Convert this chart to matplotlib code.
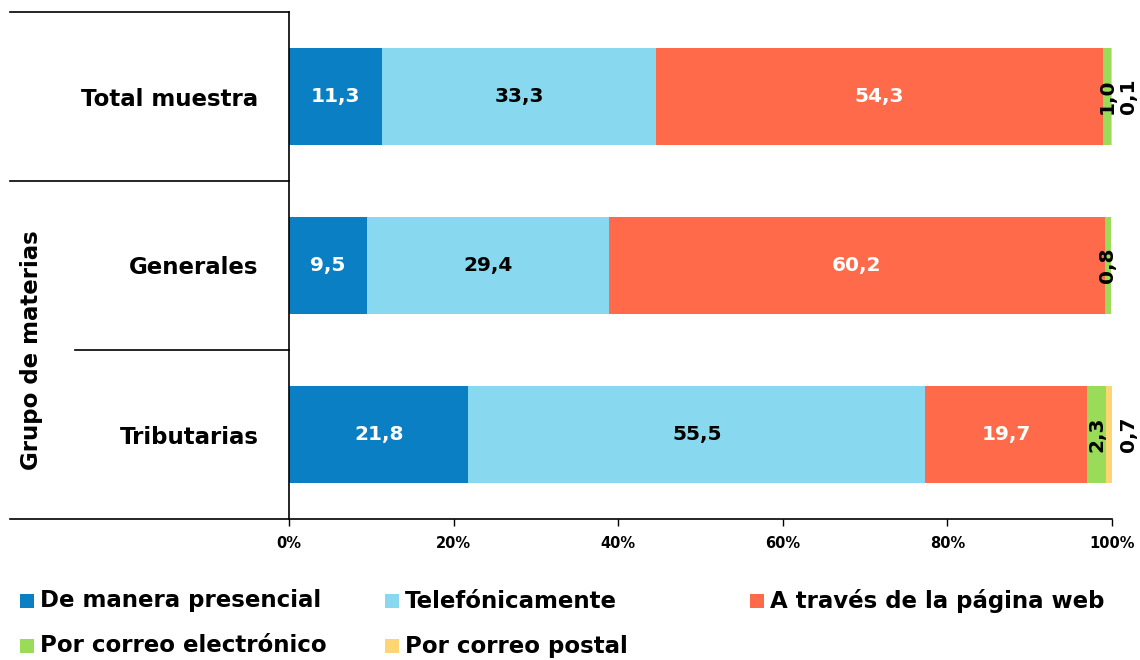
import matplotlib
matplotlib.use("Agg")
import matplotlib.pyplot as plt
from matplotlib.patches import Rectangle

# categorias y porcentajes por via de contacto
grupos = ["Total muestra", "Generales", "Tributarias"]
series = ["De manera presencial", "Telefónicamente", "A través de la página web",
          "Por correo electrónico", "Por correo postal"]
presencial = [11.3, 9.5, 21.8]
telefono = [33.3, 29.4, 55.5]
web = [54.3, 60.2, 19.7]
email = [1.0, 0.8, 2.3]
postal = [0.1, 0.0, 0.7]
ticks_x = [0, 20, 40, 60, 80, 100]
tick_labels = ["0%", "20%", "40%", "60%", "80%", "100%"]

colores = ["#0A7FC4", "#88D9EF", "#FF6B4A", "#9ADC5A", "#FFD573"]
color_texto = ["white", "black", "white", "black", "black"]

fig = plt.figure(figsize=(11.4, 6.6), dpi=100)
ax = fig.add_axes([289/1140, 1 - 519/660, 823/1140, 507/660])

valores = [presencial, telefono, web, email, postal]
ypos = list(range(len(grupos)))
izq = [0.0] * len(grupos)
for k, serie in enumerate(valores):
    ax.barh(ypos, serie, left=izq, height=0.57, color=colores[k], edgecolor="none")
    for i, v in enumerate(serie):
        if v <= 0:
            continue
        centro = izq[i] + v / 2
        txt = f"{v:.1f}".replace(".", ",")
        if v >= 5:
            ax.text(centro, i, txt, ha="center", va="center", fontsize=14.5,
                    fontweight="bold", color=color_texto[k])
        elif k == 3:
            ax.text(centro, i, txt, ha="center", va="center", fontsize=14.5,
                    fontweight="bold", color="black", rotation=90)
        else:
            # etiquetas pequeñas fuera de la barra
            ax.text(102, i, txt, ha="center", va="center", fontsize=14.5,
                    fontweight="bold", color="black", rotation=90, clip_on=False)
    izq = [a + b for a, b in zip(izq, serie)]

ax.set_xlim(0, 100)
ax.set_ylim(2.5, -0.5)
ax.set_xticks(ticks_x)
ax.set_xticklabels(tick_labels, fontsize=10.5, fontweight="bold")
ax.set_yticks(ypos)
ax.set_yticklabels(grupos, fontsize=16.5, fontweight="bold")
ax.tick_params(axis="y", length=0, pad=22)
ax.tick_params(axis="x", length=5, width=1, pad=7)

for lado in ["top", "right", "bottom"]:
    ax.spines[lado].set_visible(False)
ax.spines["left"].set_linewidth(1.2)

# lineas de la tabla a la izquierda
lw = 1.2
ax.plot([-0.339, 0], [1, 1], transform=ax.transAxes, color="black", lw=lw, clip_on=False)
ax.plot([-0.339, 0], [2/3, 2/3], transform=ax.transAxes, color="black", lw=lw, clip_on=False)
ax.plot([-0.26, 0], [1/3, 1/3], transform=ax.transAxes, color="black", lw=lw, clip_on=False)
ax.plot([-0.339, 1], [0, 0], transform=ax.transAxes, color="black", lw=lw, clip_on=False)

fig.text(32/1140, 1 - 350/660, "Grupo de materias", rotation=90, ha="center", va="center",
         fontsize=16.5, fontweight="bold")

# leyenda
pos_leyenda = [(20, 601), (385, 601), (750, 601), (20, 646), (385, 646)]
for k, nombre in enumerate(series):
    x, y = pos_leyenda[k]
    fig.patches.append(Rectangle((x/1140, 1 - (y + 7)/660), 14/1140, 14/660,
                                 transform=fig.transFigure, facecolor=colores[k],
                                 edgecolor="none"))
    fig.text((x + 20)/1140, 1 - y/660, nombre, ha="left", va="center",
             fontsize=16.5, fontweight="bold")

fig.savefig("out.png", dpi=100)
